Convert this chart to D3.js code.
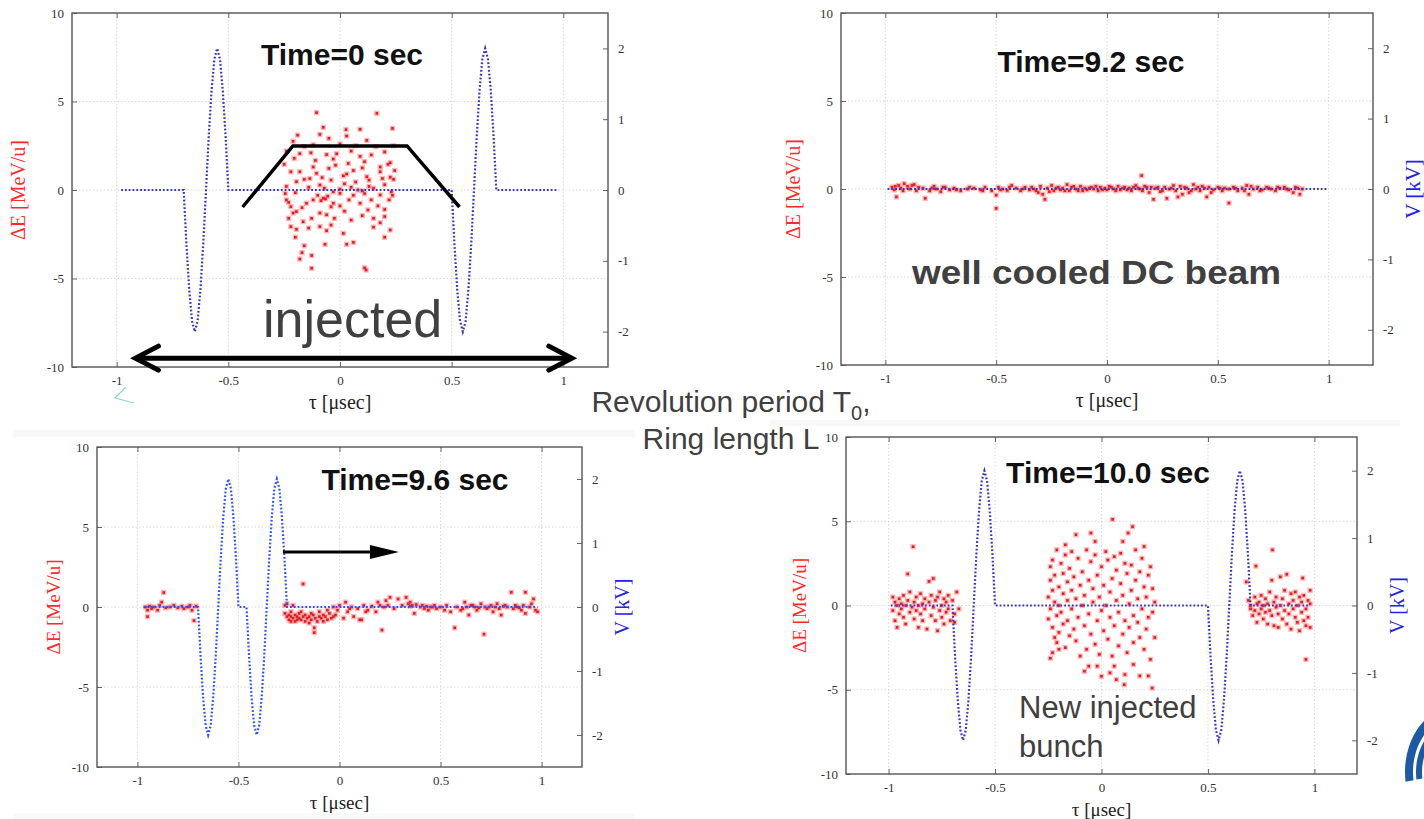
<!DOCTYPE html>
<html>
<head>
<meta charset="utf-8">
<title>Barrier bucket stacking - phase space snapshots</title>
<script src="https://cdn.jsdelivr.net/npm/d3@7"></script>
<style>
  body { margin: 0; background: #fff; }
  svg { display: block; }
</style>
</head>
<body>
<div id="chart"></div>
<script>

// axis settings
var tauDomain = [-1.2, 1.2];
var dEDomain = [-10, 10];
var vDomain = [-2.5, 2.5];
var tauTicks = [-1, -0.5, 0, 0.5, 1];
var dETicks = [-10, -5, 0, 5, 10];
var dEGrid = [-5, 0, 5];
var vTicks = [-2, -1, 0, 1, 2];
var panelTitles = ["Time=0 sec", "Time=9.2 sec", "Time=9.6 sec", "Time=10.0 sec"];

// RF barrier voltage [kV] vs tau [usec]
var rfVoltageT0 = [
    [-0.98, 0], [-0.70, 0],
    [-0.6875, -0.77], [-0.675, -1.41], [-0.6625, -1.85], [-0.65, -2.0], [-0.6375, -1.85], [-0.625, -1.41], [-0.6125, -0.77], [-0.60, 0],
    [-0.5875, 0.77], [-0.575, 1.41], [-0.5625, 1.85], [-0.55, 2.0], [-0.5375, 1.85], [-0.525, 1.41], [-0.5125, 0.77], [-0.50, 0],
    [0.50, 0],
    [0.5125, -0.77], [0.525, -1.41], [0.5375, -1.85], [0.55, -2.0], [0.5625, -1.85], [0.575, -1.41], [0.5875, -0.77], [0.60, 0],
    [0.6125, 0.77], [0.625, 1.41], [0.6375, 1.85], [0.65, 2.0], [0.6625, 1.85], [0.675, 1.41], [0.6875, 0.77], [0.70, 0],
    [0.975, 0]
];
var rfVoltageT92 = [[-0.99, 0], [0.99, 0]];
var rfVoltageT96 = [
    [-0.97, 0], [-0.70, 0],
    [-0.6875, -0.77], [-0.675, -1.41], [-0.6625, -1.85], [-0.65, -2.0], [-0.6375, -1.85], [-0.625, -1.41], [-0.6125, -0.77], [-0.60, 0],
    [-0.5875, 0.77], [-0.575, 1.41], [-0.5625, 1.85], [-0.55, 2.0], [-0.5375, 1.85], [-0.525, 1.41], [-0.5125, 0.77], [-0.50, 0],
    [-0.46, 0],
    [-0.4475, -0.77], [-0.435, -1.41], [-0.4225, -1.85], [-0.41, -2.0], [-0.3975, -1.85], [-0.385, -1.41], [-0.3725, -0.77], [-0.36, 0],
    [-0.3475, 0.77], [-0.335, 1.41], [-0.3225, 1.85], [-0.31, 2.0], [-0.2975, 1.85], [-0.285, 1.41], [-0.2725, 0.77], [-0.26, 0],
    [0.98, 0]
];
var rfVoltageT100 = [
    [-0.99, 0], [-0.70, 0],
    [-0.6875, -0.77], [-0.675, -1.41], [-0.6625, -1.85], [-0.65, -2.0], [-0.6375, -1.85], [-0.625, -1.41], [-0.6125, -0.77], [-0.60, 0],
    [-0.5875, 0.77], [-0.575, 1.41], [-0.5625, 1.85], [-0.55, 2.0], [-0.5375, 1.85], [-0.525, 1.41], [-0.5125, 0.77], [-0.50, 0],
    [0.50, 0],
    [0.5125, -0.77], [0.525, -1.41], [0.5375, -1.85], [0.55, -2.0], [0.5625, -1.85], [0.575, -1.41], [0.5875, -0.77], [0.60, 0],
    [0.6125, 0.77], [0.625, 1.41], [0.6375, 1.85], [0.65, 2.0], [0.6625, 1.85], [0.675, 1.41], [0.6875, 0.77], [0.70, 0],
    [0.98, 0]
];

// macro particles [tau usec, dE MeV/u]
var bunchT0 = [
    [-0.105,4.37],[0.165,4.33],[-0.075,3.54],[0.09,3.43],[0.027,3.41],[0.235,3.48],[-0.19,3.1],[-0.09,3.14],[-0.05,2.92],[0.03,3.05],
    [0.12,2.8],[-0.21,2.75],[-0.16,2.45],[-0.12,2.55],[0.0,2.6],[0.07,2.5],[0.16,2.45],[0.24,2.5],[-0.24,2.2],[-0.18,2.05],
    [-0.13,2.1],[-0.06,2.0],[-0.015,2.05],[0.09,1.9],[0.14,1.98],[0.2,2.15],[-0.205,1.79],[-0.11,1.67],[-0.03,1.75],[0.037,1.5],
    [0.11,1.6],[0.225,1.54],[0.215,1.45],[0.18,1.3],[-0.25,1.45],[-0.22,1.03],[-0.18,1.03],[-0.105,0.94],[-0.05,1.22],[0.015,0.8],
    [0.06,1.1],[0.12,0.75],[0.18,1.03],[0.225,0.72],[0.13,0.56],[-0.195,0.47],[-0.16,0.6],[-0.09,0.28],[-0.04,0.56],[0.02,0.35],
    [0.07,0.45],[0.2,0.3],[0.24,0.6],[-0.24,0.2],[-0.14,0.15],[-0.07,0.1],[-0.03,-0.1],[0.0,0.05],[0.05,0.15],[0.1,-0.05],
    [0.15,0.1],[0.23,-0.1],[-0.2,-0.15],[-0.24,-0.56],[-0.22,-0.94],[-0.195,-1.22],[-0.15,-0.75],[-0.12,-0.56],[-0.075,-0.47],[-0.065,-0.5],
    [-0.03,-0.75],[0.0,-0.19],[0.04,-0.56],[0.09,-0.75],[0.125,-1.13],[0.14,-0.56],[0.18,-0.28],[0.22,-0.56],[-0.1,-0.3],[-0.085,-0.6],
    [-0.055,-0.35],[0.06,-0.3],[0.17,-0.9],[0.2,-1.1],[-0.23,-0.7],[-0.17,-1.0],[-0.06,-1.4],[-0.025,-1.6],[-0.127,-1.6],[-0.165,-1.79],
    [-0.09,-1.3],[0.02,-1.2],[0.1,-1.45],[0.15,-1.6],[0.2,-1.5],[0.18,-1.85],[0.05,-1.7],[-0.04,-1.98],[-0.09,-2.07],[-0.22,-2.07],
    [-0.195,-2.22],[-0.14,-2.15],[-0.06,-2.3],[0.015,-2.45],[0.15,-2.1],[0.225,-2.26],[0.2,-2.67],[-0.2,-2.67],[-0.16,-3.15],[-0.067,-3.07],
    [0.03,-3.07],[0.06,-2.96],[-0.18,-3.9],[-0.17,-3.54],[-0.127,-3.7],[-0.127,-4.42],[0.117,-4.52],[0.11,-4.4],[-0.23,-1.6],[-0.21,-1.3],
    [0.0,-0.9],[0.08,0.0],[-0.12,1.3],[0.05,2.2],[-0.02,1.4],[0.1,1.25],[0.235,-0.3],[-0.245,-0.2],[-0.08,0.7],[0.03,0.9],
    [-0.135,0.65],[0.19,0.65],[0.245,1.1],[-0.04,-0.95],[0.11,-0.2],[0.13,0.2]
];
var bunchT92 = [
    [-0.97,0.1],[-0.96,-0.05],[-0.95,-0.45],[-0.94,0.2],[-0.93,0.05],[-0.92,-0.1],[-0.9,0.15],[-0.89,0.0],[-0.87,0.25],[-0.86,-0.1],
    [-0.85,0.1],[-0.83,0.05],[-0.82,-0.53],[-0.8,-0.1],[-0.78,0.15],[-0.77,0.0],[-0.75,-0.15],[-0.73,0.1],[-0.71,-0.05],[-0.69,0.05],
    [-0.66,-0.1],[-0.63,0.0],[-0.6,0.05],[-0.57,-0.05],[-0.55,0.1],[-0.52,-0.1],[-0.5,-1.1],[-0.5,-0.35],[-0.49,0.1],[-0.47,0.0],
    [-0.45,-0.08],[-0.43,0.2],[-0.41,0.05],[-0.39,-0.1],[-0.37,0.1],[-0.35,-0.05],[-0.33,0.0],[-0.31,-0.2],[-0.3,0.15],[-0.29,-0.3],
    [-0.28,-0.59],[-0.27,0.05],[-0.25,0.2],[-0.24,-0.1],[-0.22,0.1],[-0.21,-0.05],[-0.2,0.05],[-0.18,0.25],[-0.17,-0.1],[-0.16,0.1],
    [-0.14,0.0],[-0.13,-0.1],[-0.12,0.15],[-0.1,0.05],[-0.09,-0.05],[-0.07,0.1],[-0.06,0.0],[-0.04,-0.1],[-0.03,0.1],[-0.01,0.05],
    [0.0,-0.05],[0.02,0.1],[0.03,0.0],[0.05,0.15],[0.06,-0.05],[0.08,0.1],[0.1,0.05],[0.11,-0.1],[0.13,0.2],[0.14,0.05],
    [0.156,0.76],[0.16,-0.1],[0.18,0.1],[0.19,-0.2],[0.21,-0.59],[0.22,0.05],[0.24,-0.15],[0.26,0.1],[0.27,-0.53],[0.28,0.0],
    [0.3,0.2],[0.31,-0.1],[0.33,0.15],[0.34,-0.3],[0.36,0.05],[0.37,-0.2],[0.39,0.25],[0.4,0.0],[0.42,-0.1],[0.43,0.15],
    [0.45,-0.45],[0.46,0.1],[0.48,-0.05],[0.5,0.1],[0.52,-0.1],[0.53,0.05],[0.55,-0.8],[0.55,0.0],[0.57,0.1],[0.59,-0.1],
    [0.61,0.05],[0.63,0.2],[0.64,-0.3],[0.66,0.0],[0.68,0.1],[0.7,-0.05],[0.72,0.1],[0.74,0.0],[0.76,-0.1],[0.78,0.05],
    [0.8,0.1],[0.82,-0.05],[0.84,-0.2],[0.86,0.05],[0.88,0.0],
    [-0.955,0.15],[-0.915,0.3],[-0.88,0.2],[-0.79,0.05],[-0.74,0.1],[-0.68,-0.05],[-0.62,0.1],[-0.56,-0.1],[-0.48,-0.05],[-0.44,0.1],
    [-0.38,0.0],[-0.34,0.1],[-0.32,-0.1],[-0.26,-0.15],[-0.23,0.05],[-0.19,-0.1],[-0.15,0.15],[-0.11,-0.1],[-0.08,0.05],[-0.05,0.15],
    [-0.02,-0.05],[0.01,0.15],[0.04,-0.1],[0.07,0.05],[0.09,-0.05],[0.12,0.1],[0.15,0.0],[0.17,0.15],[0.2,0.1],[0.23,0.1],
    [0.25,-0.1],[0.29,0.05],[0.32,-0.45],[0.35,0.1],[0.38,-0.1],[0.41,0.1],[0.44,0.05],[0.47,-0.2],[0.51,0.05],[0.58,0.05],
    [0.62,-0.1],[0.65,0.15],[0.69,-0.1],[0.73,0.05],[0.77,0.1],[0.81,0.0],[0.85,0.1],[0.87,-0.3]
];
var bunchT96 = [
    [-0.96,0.0],[-0.95,-0.6],[-0.95,-0.2],[-0.94,0.05],[-0.93,-0.1],[-0.92,0.0],[-0.9,-0.2],[-0.89,0.1],[-0.88,0.3],[-0.87,0.9],
    [-0.86,-0.05],[-0.84,0.0],[-0.82,0.1],[-0.8,-0.05],[-0.78,0.05],[-0.77,-0.1],[-0.75,0.0],[-0.74,0.1],[-0.73,-0.2],[-0.72,-0.85],
    [-0.71,0.05],
    [-0.27,0.1],[-0.27,-0.4],[-0.26,-0.6],[-0.26,0.2],[-0.25,-0.5],[-0.25,-0.8],[-0.24,-0.3],[-0.24,-0.6],[-0.23,-0.7],[-0.23,0.1],
    [-0.22,-0.5],[-0.22,-0.9],[-0.21,-0.6],[-0.2,-0.4],[-0.2,-0.7],[-0.19,-0.8],[-0.18,1.44],[-0.18,-0.6],[-0.17,-0.5],[-0.17,-0.9],
    [-0.16,-0.7],[-0.15,-0.6],[-0.15,-1.0],[-0.14,-0.8],[-0.13,-0.5],[-0.125,-1.3],[-0.125,-1.6],[-0.12,-0.7],[-0.11,-0.9],[-0.1,-0.6],
    [-0.1,-0.3],[-0.09,-0.7],[-0.08,-0.5],[-0.08,-0.9],[-0.07,-0.6],[-0.06,-0.2],[-0.05,-0.4],[-0.04,-0.7],[-0.03,0.0],[-0.02,-0.5],
    [-0.01,-0.2],[0.0,0.1],[0.02,-0.7],[0.03,0.3],[0.04,-0.3],[0.06,0.0],[0.07,-0.6],[0.09,-0.1],[0.1,-0.8],[0.11,-0.8],
    [0.12,0.1],[0.14,-0.2],[0.16,0.05],[0.18,-0.3],[0.19,0.3],[0.21,-1.44],[0.22,0.0],[0.23,0.4],[0.24,0.1],[0.25,0.6],
    [0.27,-0.1],[0.29,0.5],[0.31,0.1],[0.33,0.6],[0.34,0.2],[0.35,0.3],[0.36,0.1],[0.37,-0.4],[0.38,0.15],[0.4,0.0],
    [0.42,-0.1],[0.43,0.05],[0.44,-0.2],[0.45,0.0],[0.47,0.1],[0.48,-0.1],[0.5,0.0],[0.52,-0.2],[0.53,0.1],[0.55,-0.3],
    [0.57,-1.3],[0.58,0.0],[0.6,-0.2],[0.62,0.3],[0.63,0.0],[0.64,-0.5],[0.65,0.1],[0.67,0.0],[0.68,-0.2],[0.7,0.2],
    [0.715,-1.7],[0.72,0.0],[0.73,-0.1],[0.75,0.1],[0.76,-0.3],[0.77,0.0],[0.78,0.2],[0.79,-0.1],[0.8,-0.5],[0.81,0.05],
    [0.83,0.0],[0.85,0.92],[0.86,-0.1],[0.87,0.1],[0.88,0.0],[0.9,-0.2],[0.91,0.1],[0.92,0.92],[0.92,-0.4],[0.94,0.0],
    [0.95,0.2],[0.96,0.5],[0.97,-0.2],[0.98,-0.3],
    [0.35,0.05],[0.41,0.1],[0.46,0.0],[0.61,-0.1],[0.66,0.1],[0.69,-0.05],[0.74,0.0],[0.82,0.1],[0.89,-0.05],[-0.06,-0.8],
    [-0.19,-0.3],[-0.14,-0.4],[-0.21,-0.8],[-0.24,-0.9],[-0.03,-0.6],[0.05,-0.1],[0.13,-0.3],[0.2,0.1]
];
var bunchT100 = [
    // leftover beam before the left barrier
    [-0.98,0.5],[-0.98,-0.3],[-0.97,0.2],[-0.97,-0.9],[-0.96,0.0],[-0.96,-1.3],[-0.95,0.4],[-0.95,-0.5],[-0.94,0.1],[-0.94,-0.2],
    [-0.93,0.6],[-0.93,-0.7],[-0.92,0.0],[-0.92,-1.1],[-0.91,1.87],[-0.91,0.3],[-0.9,-0.4],[-0.9,0.8],[-0.89,-0.1],[-0.885,3.49],
    [-0.88,0.2],[-0.88,-0.8],[-0.87,0.5],[-0.87,-0.3],[-0.86,0.0],[-0.86,-1.3],[-0.85,0.7],[-0.85,-0.5],[-0.84,0.1],[-0.84,-0.9],
    [-0.83,0.4],[-0.83,-0.2],[-0.82,-1.4],[-0.81,1.43],[-0.81,0.2],[-0.8,-0.6],[-0.8,0.6],[-0.79,1.6],[-0.79,-0.1],[-0.78,0.3],
    [-0.78,-0.9],[-0.77,-1.5],[-0.77,0.5],[-0.76,-0.3],[-0.76,0.8],[-0.75,0.0],[-0.75,-0.7],[-0.74,0.4],[-0.74,-1.1],[-0.73,0.2],
    [-0.73,-0.4],[-0.72,0.6],[-0.72,-0.2],[-0.71,-0.9],[-0.7,0.3],[-0.69,-0.5],[-0.69,-1.0],[-0.68,0.8],[-0.67,-0.2],
    // new injected bunch
    [0.052,5.11],[0.146,4.68],[0.125,4.3],[-0.12,4.2],[-0.05,4.3],[0.238,-4.9],[0.107,-4.7],[0.22,-4.18],[0.18,-4.18],[0.07,-4.4],
    [0.11,-4.1],[0.0,-4.2],[-0.02,-3.6],[-0.06,-3.6],[0.06,-3.6],[-0.24,-3.13],[-0.2,-2.6],[-0.22,-1.9],
    [-0.25,0.5],[-0.25,-0.8],[-0.24,1.5],[-0.24,2.3],[-0.24,-0.2],[-0.23,2.7],[-0.23,0.9],[-0.23,-1.3],[-0.23,-2.8],[-0.22,0.2],
    [-0.22,1.8],[-0.21,-0.6],[-0.21,3.3],[-0.21,-2.2],[-0.2,1.1],[-0.2,0.0],[-0.2,-1.6],[-0.19,2.5],[-0.19,-0.4],[-0.18,0.7],
    [-0.18,1.9],[-0.18,-1.1],[-0.17,3.0],[-0.17,-2.5],[-0.16,0.3],[-0.16,-0.9],[-0.16,1.4],[-0.15,2.2],[-0.15,-1.8],[-0.14,0.9],
    [-0.14,-0.2],[-0.14,3.2],[-0.13,-1.4],[-0.13,1.7],[-0.12,0.4],[-0.12,-2.1],[-0.11,2.8],[-0.11,-0.7],[-0.1,1.2],[-0.1,-3.0],
    [-0.09,0.0],[-0.09,2.0],[-0.08,-1.2],[-0.08,0.6],[-0.07,3.3],[-0.07,-2.6],[-0.06,1.5],[-0.06,-0.5],[-0.05,2.6],[-0.05,-1.7],
    [-0.04,0.2],[-0.04,1.0],[-0.03,-2.3],[-0.03,3.0],[-0.02,-0.9],[-0.02,1.8],[-0.01,0.5],[-0.01,-2.9],[0.0,2.3],[0.0,-0.3],
    [0.01,1.2],[0.01,-1.5],[0.02,3.2],[0.02,0.0],[0.03,-2.0],[0.03,2.7],[0.04,0.8],[0.04,-0.7],[0.05,1.6],[0.05,-3.0],
    [0.06,2.9],[0.06,-1.2],[0.07,0.3],[0.07,2.1],[0.08,-0.4],[0.08,-2.4],[0.09,1.3],[0.09,3.1],[0.1,-1.7],[0.1,0.6],
    [0.11,2.5],[0.11,-0.9],[0.12,1.9],[0.12,-2.8],[0.13,0.1],[0.13,-1.3],[0.14,2.4],[0.14,0.9],[0.15,-0.6],[0.15,-2.2],
    [0.16,1.5],[0.16,3.3],[0.17,-1.0],[0.17,0.4],[0.18,2.0],[0.18,-1.9],[0.19,-0.2],[0.19,2.8],[0.2,1.1],[0.2,-2.6],
    [0.21,0.5],[0.21,-1.4],[0.22,1.8],[0.22,-0.7],[0.23,2.3],[0.23,-3.2],[0.24,-0.4],[0.24,1.0],[0.25,-1.9],[0.25,0.2],
    [-0.03,3.8],[0.1,3.8],[0.2,3.5],[-0.17,3.6],[-0.08,-3.9],[0.15,-3.5],[0.04,-4.0],
    // leftover beam after the right barrier
    [0.68,1.4],[0.69,0.3],[0.7,-0.2],[0.7,0.0],[0.71,-0.6],[0.72,0.5],[0.725,2.34],[0.72,-0.3],[0.73,0.1],[0.73,-1.0],
    [0.74,-0.5],[0.74,0.2],[0.75,-0.2],[0.75,0.6],[0.76,-0.8],[0.76,0.0],[0.77,0.4],[0.77,-0.4],[0.78,-1.1],[0.78,0.1],
    [0.79,-0.3],[0.79,0.8],[0.8,1.5],[0.803,3.3],[0.8,-0.6],[0.81,0.2],[0.81,-1.2],[0.82,-0.1],[0.82,0.5],[0.83,-0.5],
    [0.83,-1.3],[0.84,1.7],[0.84,0.0],[0.85,-0.8],[0.85,0.4],[0.86,-0.3],[0.86,0.9],[0.87,1.85],[0.87,-1.1],[0.88,0.1],
    [0.88,-0.5],[0.89,0.7],[0.89,-1.4],[0.9,-0.2],[0.9,0.3],[0.91,-0.7],[0.91,0.8],[0.92,-1.0],[0.92,0.0],[0.93,0.5],
    [0.93,-1.5],[0.94,-0.4],[0.94,0.2],[0.945,1.63],[0.95,-0.9],[0.95,0.6],[0.96,-0.2],[0.96,-1.2],[0.96,-3.2],[0.97,0.3],
    [0.97,-0.7],[0.98,-1.3],[0.98,0.1],[0.98,0.9]
];

// annotation shapes in panel data coordinates
var bucketOutline = [[-0.436, -0.96], [-0.211, 2.49], [0.30, 2.49], [0.535, -0.96]];
var ringSpan = [[-0.925, -9.5], [1.047, -9.5]];
var driftArrow = [[-0.28, 3.44], [0.294, 3.44]];

var width = 1424, height = 819;
var serif = "'Liberation Serif', 'Times New Roman', serif";
var sans = "'Liberation Sans', Arial, sans-serif";

var svg = d3.select("#chart")
    .append("svg")
    .attr("width", width)
    .attr("height", height);

svg.append("rect").attr("width", width).attr("height", height).attr("fill", "#fff");

// faint edges of the pasted lower pictures
svg.append("rect").attr("x", 13).attr("y", 430).attr("width", 622).attr("height", 7).attr("fill", "#f8f8f8");
svg.append("rect").attr("x", 13).attr("y", 813).attr("width", 622).attr("height", 6).attr("fill", "#fafafa");
svg.append("rect").attr("x", 770).attr("y", 420).attr("width", 630).attr("height", 6).attr("fill", "#f9f9f9");

var panels = [
    { title: panelTitles[0], bunch: bunchT0, rf: rfVoltageT0, left: 72, right: 608, top: 13, bottom: 367,
      titleX: 342, titleY: 65, eLabelX: 18, vLabelX: null, rfColor: "#3636b8", labelSize: 20 },
    { title: panelTitles[1], bunch: bunchT92, rf: rfVoltageT92, left: 841, right: 1373, top: 13, bottom: 365,
      titleX: 1091, titleY: 72, eLabelX: 793, vLabelX: 1413, rfColor: "#3636c4", labelSize: 20 },
    { title: panelTitles[2], bunch: bunchT96, rf: rfVoltageT96, left: 97, right: 582, top: 447, bottom: 767,
      titleX: 415, titleY: 490, eLabelX: 53, vLabelX: 622, rfColor: "#2a50ff", labelSize: 19 },
    { title: panelTitles[3], bunch: bunchT100, rf: rfVoltageT100, left: 846, right: 1357, top: 437, bottom: 774,
      titleX: 1108, titleY: 483, eLabelX: 799, vLabelX: 1397, rfColor: "#3636c4", labelSize: 19 }
];

function fmt(d) { return String(d); }

function drawPanel(p) {
    var g = svg.append("g");
    var x = d3.scaleLinear().domain(tauDomain).range([p.left, p.right]);
    var yE = d3.scaleLinear().domain(dEDomain).range([p.bottom, p.top]);
    var yV = d3.scaleLinear().domain(vDomain).range([p.bottom, p.top]);
    p.x = x; p.yE = yE;

    // light dotted grid
    g.selectAll(".vgrid").data(tauTicks).enter().append("line")
        .attr("x1", function(d) { return x(d); })
        .attr("x2", function(d) { return x(d); })
        .attr("y1", p.top).attr("y2", p.bottom)
        .attr("stroke", "#d6d6d6").attr("stroke-width", 0.9).attr("stroke-dasharray", "1.5,2");
    g.selectAll(".hgrid").data(dEGrid).enter().append("line")
        .attr("x1", p.left).attr("x2", p.right)
        .attr("y1", function(d) { return yE(d); })
        .attr("y2", function(d) { return yE(d); })
        .attr("stroke", "#d6d6d6").attr("stroke-width", 0.9).attr("stroke-dasharray", "1.5,2");

    // axes with inward ticks
    g.append("g").attr("transform", `translate(0, ${p.bottom})`)
        .call(d3.axisBottom(x).tickValues(tauTicks).tickFormat(fmt).tickSize(-5).tickPadding(9));
    g.append("g").attr("transform", `translate(0, ${p.top})`)
        .call(d3.axisTop(x).tickValues(tauTicks).tickFormat("").tickSize(-5));
    g.append("g").attr("transform", `translate(${p.left}, 0)`)
        .call(d3.axisLeft(yE).tickValues(dETicks).tickFormat(fmt).tickSize(-5).tickPadding(8));
    g.append("g").attr("transform", `translate(${p.right}, 0)`)
        .call(d3.axisRight(yV).tickValues(vTicks).tickFormat(fmt).tickSize(-5).tickPadding(10));
    g.selectAll(".domain").remove();
    g.selectAll(".tick line").attr("stroke", "#666").attr("stroke-width", 1);
    g.selectAll(".tick text")
        .style("font-family", serif)
        .style("font-size", "13px")
        .attr("fill", "#333");

    // particles
    var sq = d3.symbol().type(d3.symbolSquare);
    g.selectAll(".pt").data(p.bunch).enter().append("path")
        .attr("class", "pt")
        .attr("d", sq.size(28)())
        .attr("transform", function(d) { return `translate(${x(d[0])}, ${yE(d[1])})`; })
        .attr("fill", "#ff9c9c")
        .attr("fill-opacity", 0.75);
    g.selectAll(".ptc").data(p.bunch).enter().append("path")
        .attr("class", "ptc")
        .attr("d", sq.size(7)())
        .attr("transform", function(d) { return `translate(${x(d[0])}, ${yE(d[1])})`; })
        .attr("fill", "#e01e28");

    // RF barrier voltage, dotted
    var line = d3.line()
        .x(function(d) { return x(d[0]); })
        .y(function(d) { return yV(d[1]); });
    g.append("path")
        .datum(p.rf)
        .attr("d", line)
        .attr("fill", "none")
        .attr("stroke", p.rfColor)
        .attr("stroke-width", 2.2)
        .attr("stroke-dasharray", "1.8,2");

    // frame
    g.append("rect")
        .attr("x", p.left).attr("y", p.top)
        .attr("width", p.right - p.left).attr("height", p.bottom - p.top)
        .attr("fill", "none").attr("stroke", "#555").attr("stroke-width", 1.4);

    // axis titles
    var midY = (p.top + p.bottom) / 2;
    g.append("text")
        .attr("transform", `translate(${p.eLabelX}, ${midY}) rotate(-90)`)
        .attr("dy", "0.35em")
        .style("text-anchor", "middle")
        .style("font-family", serif)
        .style("font-size", p.labelSize + "px")
        .attr("fill", "#ff2a2a")
        .text("ΔE [MeV/u]");
    if (p.vLabelX !== null) {
        g.append("text")
            .attr("transform", `translate(${p.vLabelX}, ${midY}) rotate(-90)`)
            .attr("dy", "0.35em")
            .style("text-anchor", "middle")
            .style("font-family", serif)
            .style("font-size", (p.labelSize + 1) + "px")
            .attr("fill", "#2323e6")
            .text("V [kV]");
    }
    g.append("text")
        .attr("x", x(0))
        .attr("y", p.bottom + 42)
        .style("text-anchor", "middle")
        .style("font-family", serif)
        .style("font-size", p.labelSize + "px")
        .attr("fill", "#222")
        .text("τ [μsec]");

    // snapshot time
    g.append("text")
        .attr("x", p.titleX)
        .attr("y", p.titleY)
        .style("text-anchor", "middle")
        .style("font-family", sans)
        .style("font-weight", "bold")
        .style("font-size", "30px")
        .attr("fill", "#111")
        .text(p.title);
}

panels.forEach(drawPanel);

// annotations
var p1 = panels[0], p3 = panels[2];
var pathLine = d3.line()
    .x(function(d) { return p1.x(d[0]); })
    .y(function(d) { return p1.yE(d[1]); });

svg.append("path")
    .datum(bucketOutline)
    .attr("d", pathLine)
    .attr("fill", "none")
    .attr("stroke", "#000")
    .attr("stroke-width", 3.5);

var ax0 = p1.x(ringSpan[0][0]), ax1 = p1.x(ringSpan[1][0]), ay = p1.yE(ringSpan[0][1]);
svg.append("line")
    .attr("x1", ax0 + 2).attr("x2", ax1 - 2).attr("y1", ay).attr("y2", ay)
    .attr("stroke", "#000").attr("stroke-width", 5);
svg.append("path")
    .attr("d", `M${ax0 + 25},${ay - 12} L${ax0 + 2},${ay} L${ax0 + 25},${ay + 12}`)
    .attr("fill", "none").attr("stroke", "#000").attr("stroke-width", 5)
    .attr("stroke-linecap", "round").attr("stroke-linejoin", "miter");
svg.append("path")
    .attr("d", `M${ax1 - 25},${ay - 12} L${ax1 - 2},${ay} L${ax1 - 25},${ay + 12}`)
    .attr("fill", "none").attr("stroke", "#000").attr("stroke-width", 5)
    .attr("stroke-linecap", "round").attr("stroke-linejoin", "miter");

var bx0 = p3.x(driftArrow[0][0]), bx1 = p3.x(driftArrow[1][0]), by = p3.yE(driftArrow[0][1]);
svg.append("line")
    .attr("x1", bx0).attr("x2", bx1 - 25).attr("y1", by).attr("y2", by)
    .attr("stroke", "#000").attr("stroke-width", 3);
svg.append("path")
    .attr("d", `M${bx1 - 29},${by - 7} L${bx1},${by} L${bx1 - 29},${by + 7} Z`)
    .attr("fill", "#000");

svg.append("text")
    .attr("x", 263).attr("y", 337)
    .style("font-family", sans)
    .style("font-size", "52px")
    .attr("fill", "#404040")
    .text("injected");

svg.append("text")
    .attr("x", 912).attr("y", 284)
    .attr("textLength", 369)
    .attr("lengthAdjust", "spacingAndGlyphs")
    .style("font-family", sans)
    .style("font-weight", "bold")
    .style("font-size", "34px")
    .attr("fill", "#404040")
    .text("well cooled DC beam");

var rev = svg.append("text")
    .attr("x", 731).attr("y", 412)
    .style("text-anchor", "middle")
    .style("font-family", sans)
    .style("font-size", "30px")
    .attr("fill", "#404040");
rev.append("tspan").text("Revolution period T");
rev.append("tspan").attr("dy", 8).style("font-size", "20px").text("0");
rev.append("tspan").attr("dy", -8).text(",");
svg.append("text")
    .attr("x", 731).attr("y", 449)
    .style("text-anchor", "middle")
    .style("font-family", sans)
    .style("font-size", "30px")
    .attr("fill", "#404040")
    .text("Ring length L");

svg.append("text")
    .attr("x", 1019).attr("y", 718)
    .style("font-family", sans)
    .style("font-size", "31px")
    .attr("fill", "#404040")
    .text("New injected");
svg.append("text")
    .attr("x", 1019).attr("y", 757)
    .style("font-family", sans)
    .style("font-size", "31px")
    .attr("fill", "#404040")
    .text("bunch");

// small cyan stroke left from the first picture
svg.append("path")
    .attr("d", "M126,387 L115,398 L134,403")
    .attr("fill", "none").attr("stroke", "#8fd3dc").attr("stroke-width", 1.2);

// corner logo arcs, mostly off the page
var logo = svg.append("g").attr("transform", "translate(1455, 772) scale(1, 1.3)");
[[42, 50], [33, 39], [24, 30], [15, 21]].forEach(function(r) {
    logo.append("path")
        .attr("d", d3.arc()({ innerRadius: r[0], outerRadius: r[1], startAngle: -Math.PI / 2 - 0.15, endAngle: 0 }))
        .attr("fill", "#1c5aa6");
});

</script>
</body>
</html>
